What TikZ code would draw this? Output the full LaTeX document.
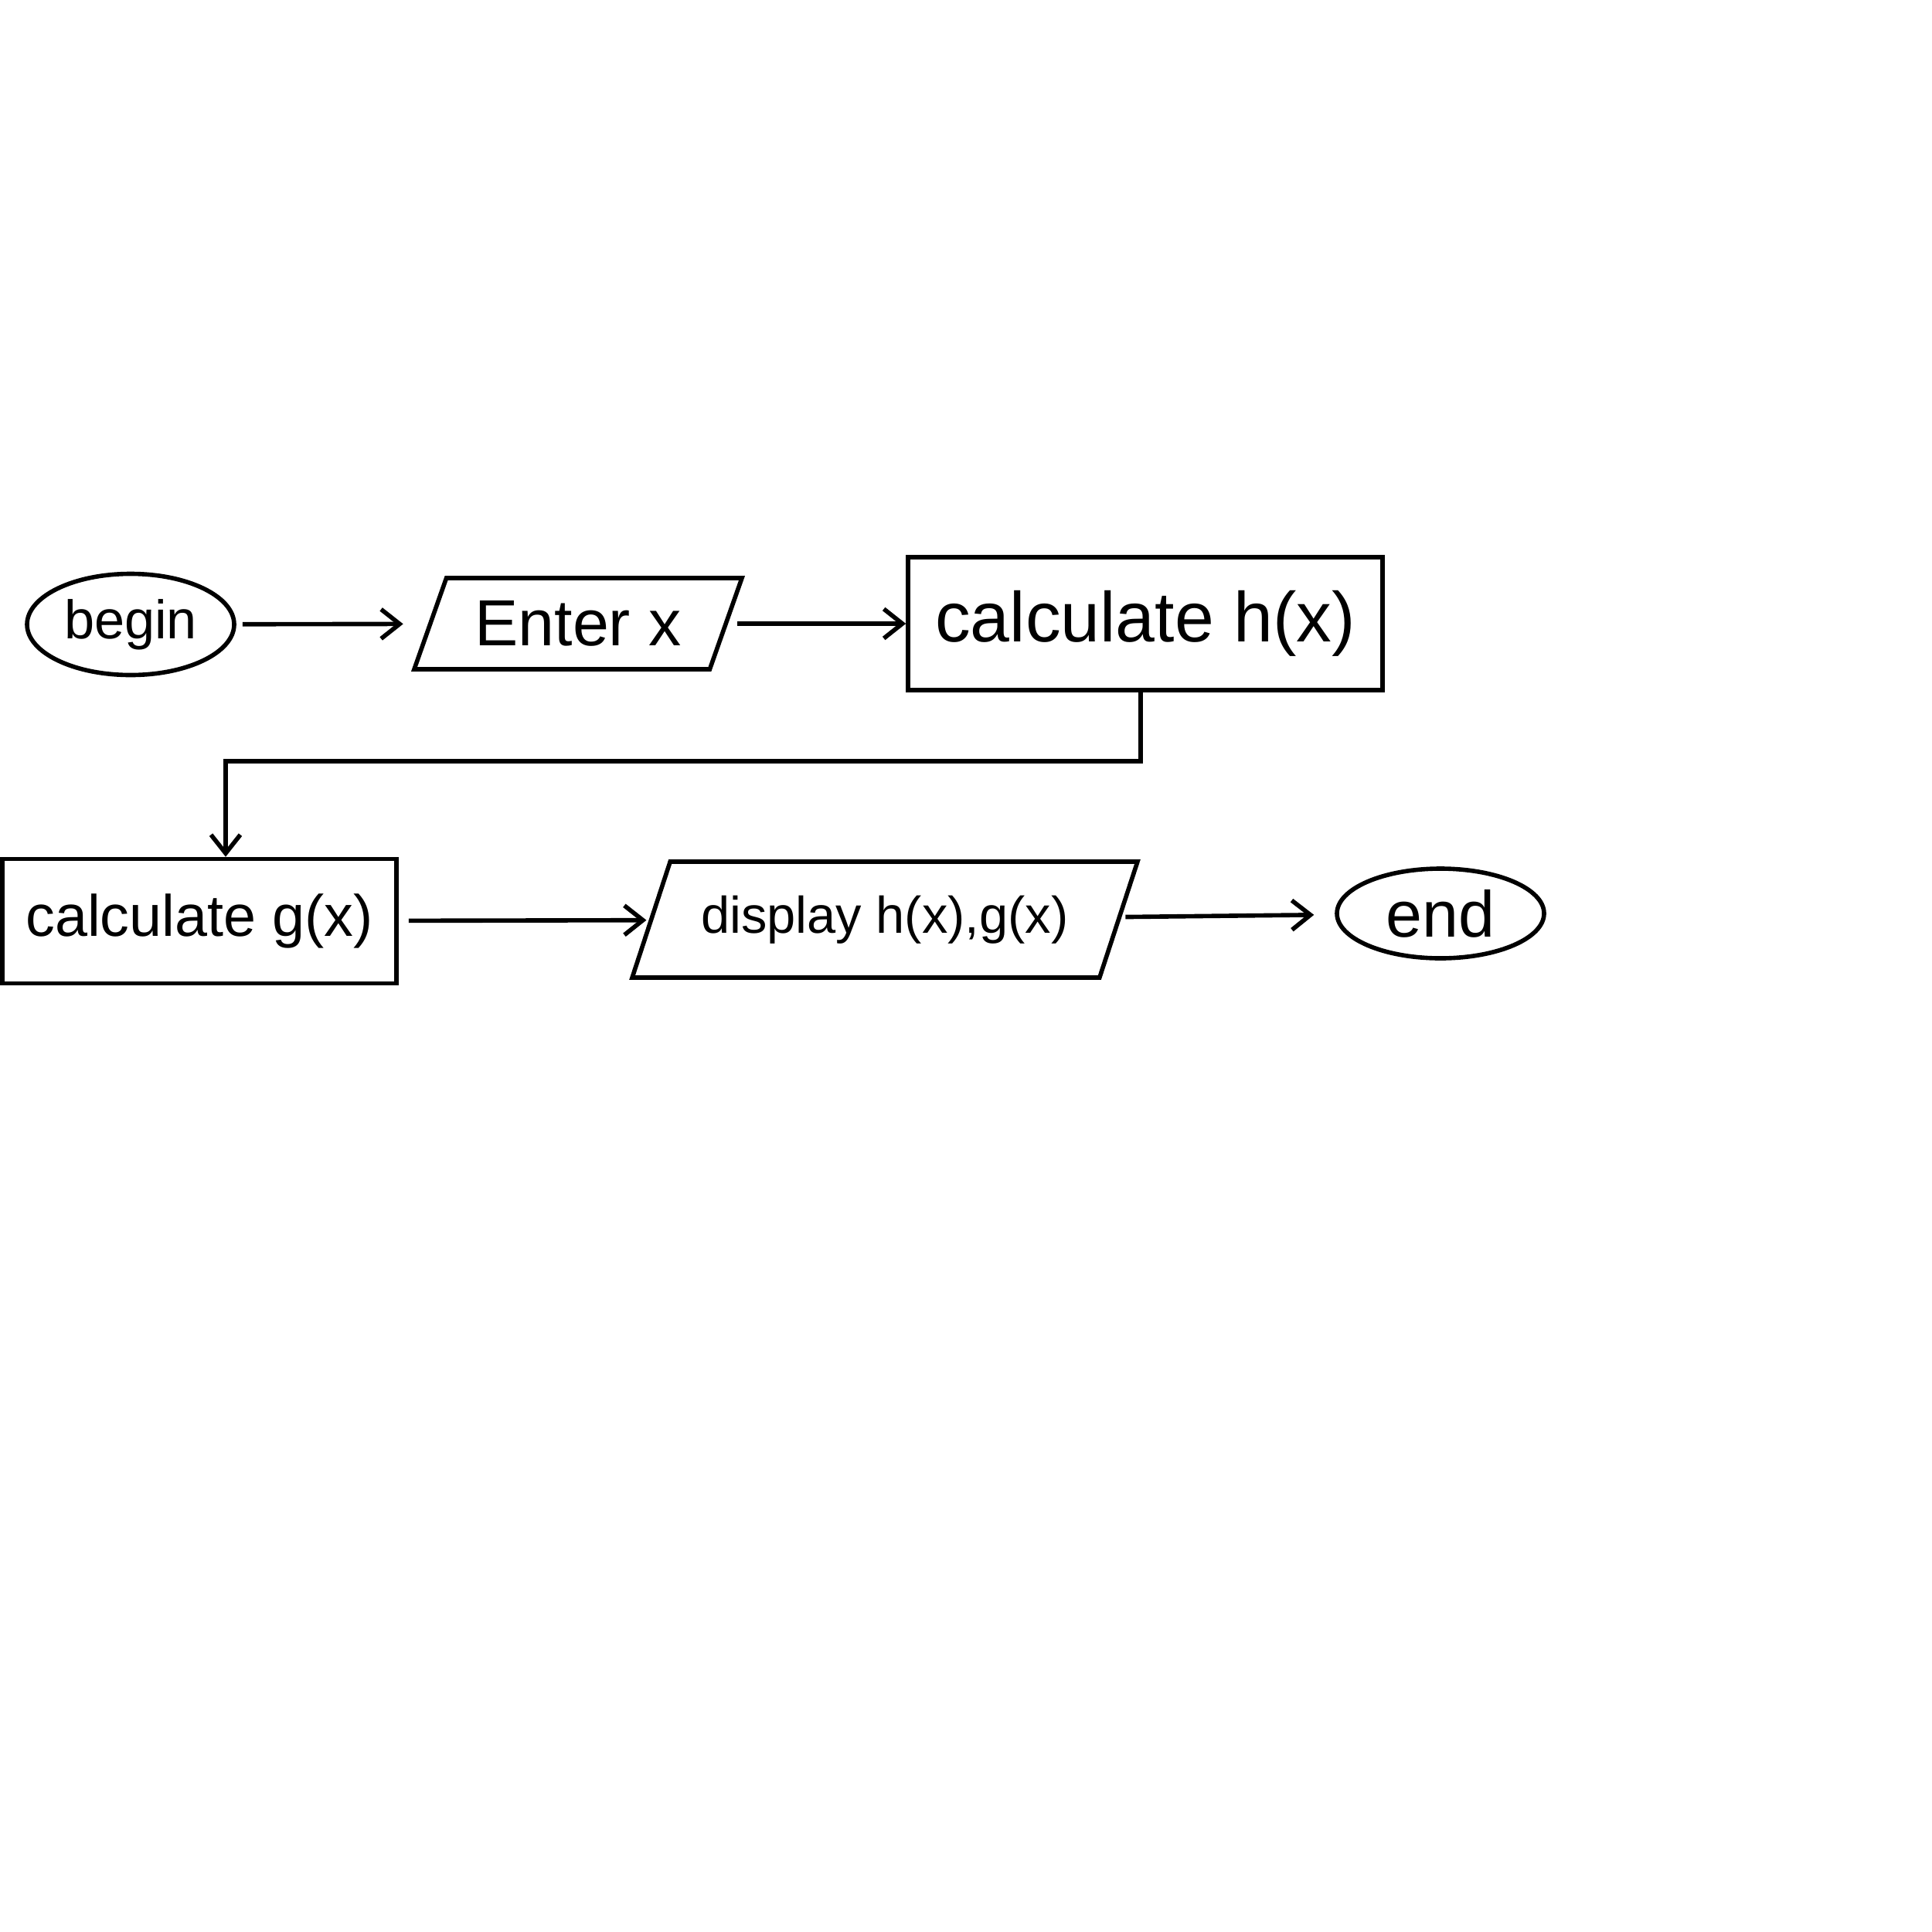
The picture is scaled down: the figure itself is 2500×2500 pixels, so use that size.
\documentclass[tikz,border=0pt]{standalone}
\usepackage{fontspec}
\setmainfont{Liberation Sans}
\usetikzlibrary{shapes.geometric,arrows.meta}
\begin{document}
\begin{tikzpicture}[x=0.1mm,y=-0.1mm,
  every node/.style={font=\fontsize{24}{28}\selectfont},
  base/.style={draw,line width=1.6pt,inner sep=0pt},
  terminal/.style={base,ellipse},
  process/.style={base,rectangle},
  io/.style={base,trapezium,trapezium stretches=true},
  flow/.style={line width=1.6pt,-{Straight Barb[length=2.4mm,width=3.8mm,line width=1.6pt]}}
]
\useasboundingbox (0,0) rectangle (2500,2500);
\node[terminal,minimum width=26.8mm,minimum height=13.1mm,font=\fontsize{20}{24}\selectfont] (begin) at (169,808) {begin};
\node[io,trapezium left angle=61,trapezium right angle=119,minimum width=42.7mm,minimum height=11.8mm] (enter) at (748,807) {Enter x};
\node[process,minimum width=61.4mm,minimum height=17.2mm,font=\fontsize{26}{30}\selectfont] (calch) at (1482,807) {calculate h(x)};
\node[process,minimum width=51mm,minimum height=16.1mm,font=\fontsize{21.5}{25}\selectfont] (calcg) at (258,1192) {calculate g(x)};
\node[io,trapezium left angle=56,trapezium right angle=124,minimum width=65.4mm,minimum height=15mm,font=\fontsize{19}{23}\selectfont] (disp) at (1145,1190) {display h(x),g(x)};
\node[terminal,minimum width=26.8mm,minimum height=11.6mm] (end) at (1864,1182) {end};
\coordinate (turn1) at (1476,985);
\coordinate (turn2) at (292,985);
\draw[flow,shorten <=0.8mm,shorten >=3.2mm] (begin) -- (enter);
\draw[flow,shorten <=1.2mm] (enter) -- (calch);
\draw[flow] (calch.south -| turn1) -- (turn1) -- (turn2) -- (calcg.north -| turn2);
\draw[flow,shorten <=1.3mm,shorten >=0.3mm] (calcg) -- (disp);
\draw[flow,shorten <=0.5mm,shorten >=2.7mm] (disp) -- (end);
\end{tikzpicture}
\end{document}
